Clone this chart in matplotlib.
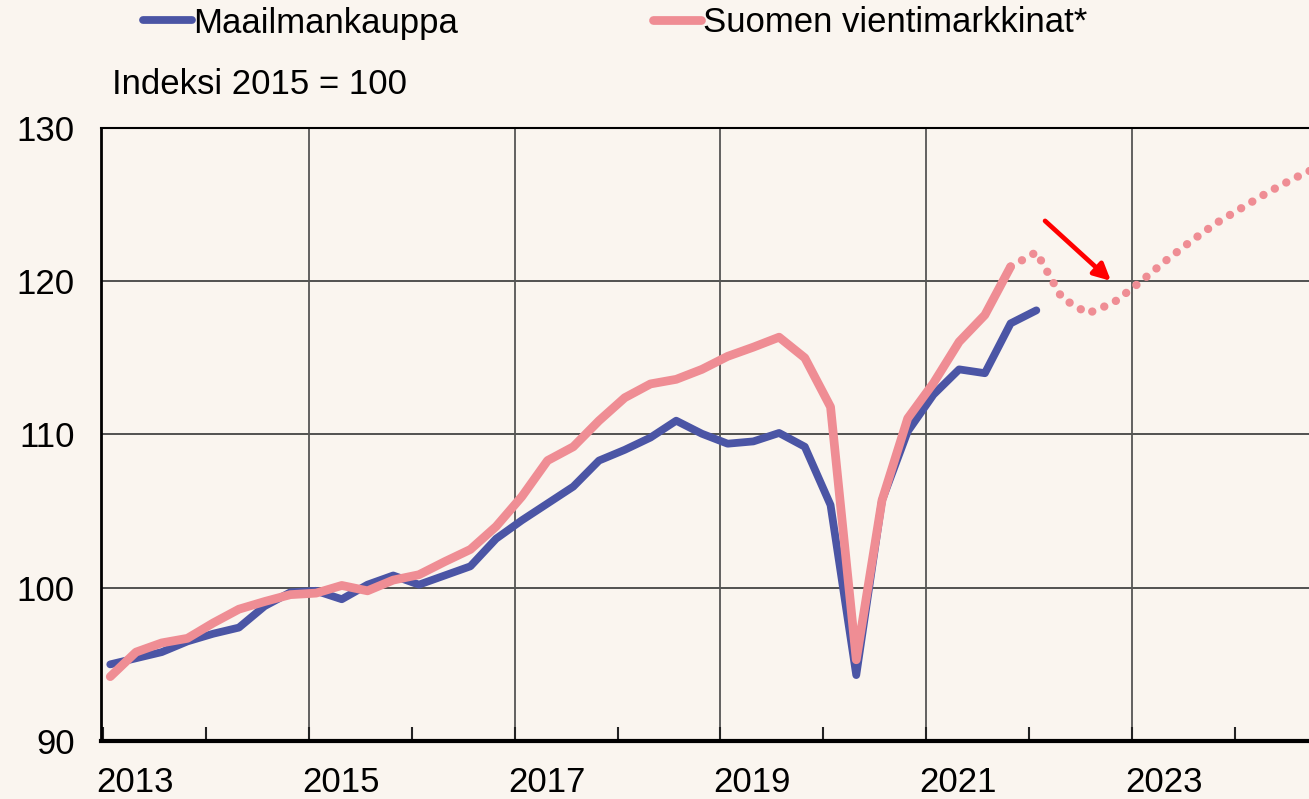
import numpy as np
import matplotlib
matplotlib.use("Agg")
import matplotlib.pyplot as plt
import matplotlib.transforms as mtransforms

plt.rcParams['font.family'] = ['Liberation Sans', 'DejaVu Sans']

# quarterly index values, 2015 = 100
world_trade = [95.0, 95.4, 95.8, 96.5,
               97.0, 97.4, 98.8, 99.7,
               99.8, 99.25, 100.2, 100.8,
               100.2, 100.8, 101.4, 103.2,
               104.4, 105.5, 106.6, 108.3,
               109.0, 109.8, 110.9, 110.05,
               109.4, 109.55, 110.1, 109.2,
               105.4, 94.3, 105.7, 110.2,
               112.6, 114.25, 114.0, 117.25,
               118.1]
export_markets = [94.2, 95.8, 96.4, 96.7,
                  97.7, 98.6, 99.1, 99.55,
                  99.65, 100.15, 99.8, 100.5,
                  100.85, 101.7, 102.5, 104.0,
                  105.95, 108.3, 109.2, 110.9,
                  112.4, 113.3, 113.6, 114.25,
                  115.1, 115.7, 116.35, 115.0,
                  111.8, 95.3, 105.7, 111.05,
                  113.35, 116.05, 117.8, 120.95]
# forecast, from 2021Q4 to 2024Q4
export_forecast = [120.95, 121.9, 118.9, 117.9, 118.6, 119.9, 121.3,
                   122.6, 123.8, 124.8, 125.8, 126.7, 127.5]

year_labels = ['2013', '2015', '2017', '2019', '2021', '2023']
legend_labels = ['Maailmankauppa', 'Suomen vientimarkkinat*']

BLUE = '#4b55a5'
PINK = '#ef8d94'
BG = '#faf5ef'
FS = 25

# quarters plotted a bit after the start of the quarter
x_world = 2013 + np.arange(len(world_trade)) * 0.25 + 0.07
x_exp = 2013 + np.arange(len(export_markets)) * 0.25 + 0.07
x_fc = x_exp[-1] + np.arange(len(export_forecast)) * 0.25

fig = plt.figure(figsize=(13.09, 7.99), dpi=100, facecolor=BG)
ax = fig.add_axes([101/1309, 1-741/799, 1-101/1309, (741-128)/799])
ax.set_facecolor(BG)

l1, = ax.plot(x_world, world_trade, color=BLUE, lw=5.6, solid_capstyle='round',
              solid_joinstyle='round', zorder=3)
l2, = ax.plot(x_exp, export_markets, color=PINK, lw=6.3, solid_capstyle='round',
              solid_joinstyle='round', zorder=4)
ax.plot(x_fc, export_forecast, color=PINK, lw=6.0, linestyle=(0, (0.01, 1.55)),
        dash_capstyle='round', zorder=4)

ax.annotate('', xy=(2022.815, 119.9), xytext=(2022.135, 124.06),
            arrowprops=dict(arrowstyle='-|>,head_length=1.0,head_width=0.5',
                            color='#ff0000', lw=3.4), zorder=5)

ax.set_xlim(2012.98, 2024.72)
ax.set_ylim(90, 130)
ax.set_yticks([90, 100, 110, 120, 130])
ax.set_yticklabels(['90', '100', '110', '120', '130'])
ax.tick_params(axis='y', length=0, pad=19, labelsize=FS)
ax.set_xticks(np.arange(2013, 2025, 1))
ax.set_xticklabels([])
ax.tick_params(axis='x', direction='in', length=10, width=1.5, color='#222222')

for y in [100, 110, 120]:
    ax.axhline(y, color='#444444', lw=1.3, zorder=1)
for x in [2015, 2017, 2019, 2021, 2023]:
    ax.axvline(x, color='#555555', lw=1.3, zorder=1)

ax.spines['right'].set_visible(False)
ax.spines['left'].set_linewidth(2)
ax.spines['top'].set_linewidth(1.5)
ax.spines['bottom'].set_linewidth(3)

trans = mtransforms.blended_transform_factory(ax.transData, ax.transAxes)
for lab in year_labels:
    ax.text(int(lab) + 0.31, -42/613, lab, transform=trans, ha='center',
            va='center', fontsize=FS, clip_on=False)

fig.text(112/1309, 1-84/799, 'Indeksi 2015 = 100', fontsize=FS, va='center', ha='left')

fig.legend([l1, l2], legend_labels, loc='center left',
           bbox_to_anchor=(143/1309, 1-23/799), ncol=2, frameon=False,
           fontsize=FS, handlelength=1.4, handletextpad=0.05,
           columnspacing=5.6, borderpad=0, borderaxespad=0)

fig.savefig('out.png', dpi=100, facecolor=BG)
